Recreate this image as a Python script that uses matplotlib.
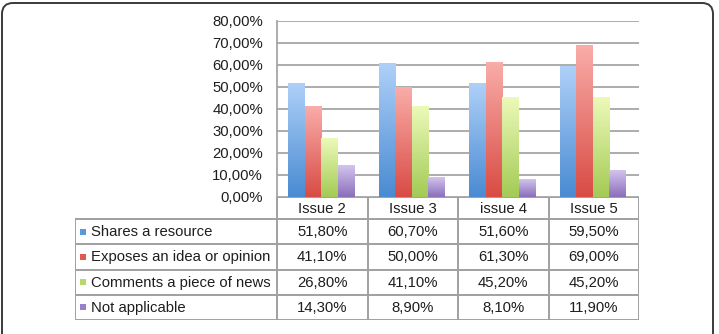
import numpy as np
import matplotlib.pyplot as plt
import matplotlib.patches as mpatches
from matplotlib.colors import LinearSegmentedColormap
from matplotlib.transforms import IdentityTransform

plt.rcParams['font.family'] = ['Liberation Sans', 'DejaVu Sans']

# Data
issues = ['Issue 2', 'Issue 3', 'issue 4', 'Issue 5']
series = ['Shares a resource', 'Exposes an idea or opinion',
          'Comments a piece of news', 'Not applicable']
shares = [51.8, 60.7, 51.6, 59.5]
exposes = [41.1, 50.0, 61.3, 69.0]
comments = [26.8, 41.1, 45.2, 45.2]
not_applicable = [14.3, 8.9, 8.1, 11.9]
values = [shares, exposes, comments, not_applicable]
y_ticks = [0, 10, 20, 30, 40, 50, 60, 70, 80]

# (light top, dark bottom) per series
grad = [('#aed0f8', '#4a8bd3'),
        ('#f9aca8', '#d94c45'),
        ('#ecf9b8', '#a3cb55'),
        ('#d2c3ee', '#8b6fbb')]
swatch = ['#5a98dc', '#e05a52', '#b5d86a', '#9a80c8']

def pct(v):
    return f'{v:.2f}%'.replace('.', ',')

W, H = 719, 334
fig = plt.figure(figsize=(W / 100, H / 100), dpi=100)

# rounded frame around the whole chart
frame = mpatches.FancyBboxPatch((2, -30), 711, 361,
                                boxstyle='round,pad=0,rounding_size=11',
                                transform=IdentityTransform(),
                                fill=False, edgecolor='#3a3a3a', linewidth=1.4)
fig.add_artist(frame)

# bar axes (pixel layout)
px_l, px_r, px_t, px_b = 277, 639, 21, 197
ax = fig.add_axes([px_l / W, 1 - px_b / H, (px_r - px_l) / W, (px_b - px_t) / H])

n = len(series)
bw = 0.183
x = np.arange(len(issues))
gray = '#a6a6a6'
for i in range(n):
    offs = (i - (n - 1) / 2) * bw - 0.012
    bars = ax.bar(x + offs, values[i], width=bw, color='none', zorder=3)
    cmap = LinearSegmentedColormap.from_list(f'g{i}', [grad[i][1], grad[i][0]])
    g = np.linspace(0, 1, 64).reshape(-1, 1)
    for b in bars:
        ax.imshow(g, extent=[b.get_x(), b.get_x() + b.get_width(), 0, b.get_height()],
                  origin='lower', cmap=cmap, aspect='auto', zorder=3,
                  interpolation='bicubic')

ax.set_xlim(-0.5, len(issues) - 0.5)
ax.set_ylim(0, 80)
ax.set_yticks(y_ticks)
ax.set_yticklabels([pct(v) for v in y_ticks], fontsize=10.7, color='#1e1e1e')
ax.set_xticks([])
ax.tick_params(axis='y', length=0, pad=10)
ax.grid(axis='y', color=gray, linewidth=1.3, zorder=0)
for s in ['top', 'right', 'bottom']:
    ax.spines[s].set_visible(False)
ax.spines['left'].set_color(gray)
ax.spines['left'].set_linewidth(1.3)

# data table below the bars
t_l, t_r, t_t, t_b = 75, 639, 197, 320
ax_t = fig.add_axes([t_l / W, 1 - t_b / H, (t_r - t_l) / W, (t_b - t_t) / H])
label_w = px_l - t_l
col_w = (px_r - px_l) / len(issues)
head_h = 22
row_h = (t_b - t_t - head_h) / n
ax_t.set_xlim(0, t_r - t_l)
ax_t.set_ylim(t_b - t_t, 0)
ax_t.axis('off')

lc = '#a0a0a0'
lw = 1.4
col_edges = [label_w + j * col_w for j in range(len(issues) + 1)]
row_edges = [head_h + r * row_h for r in range(n + 1)]
# horizontal lines
ax_t.plot([label_w, col_edges[-1]], [0, 0], color=lc, lw=lw)
for y in row_edges:
    ax_t.plot([0, col_edges[-1]], [y, y], color=lc, lw=lw)
# vertical lines
ax_t.plot([0, 0], [head_h, row_edges[-1]], color=lc, lw=lw)
for xe in col_edges:
    ax_t.plot([xe, xe], [0, row_edges[-1]], color=lc, lw=lw)

fs = 10.7
for j, lab in enumerate(issues):
    ax_t.text(label_w + (j + 0.5) * col_w, head_h / 2 + 1, lab, ha='center',
              va='center', fontsize=fs, color='#1e1e1e')
for r in range(n):
    yc = head_h + (r + 0.5) * row_h
    ax_t.plot([8], [yc], marker='s', markersize=4.5, color=swatch[r],
              markeredgewidth=0)
    ax_t.text(16, yc + 0.5, series[r], ha='left', va='center', fontsize=fs,
              color='#1e1e1e')
    for j in range(len(issues)):
        ax_t.text(label_w + (j + 0.5) * col_w, yc + 0.5, pct(values[r][j]),
                  ha='center', va='center', fontsize=fs, color='#1e1e1e')

fig.savefig('out.png', dpi=100)
